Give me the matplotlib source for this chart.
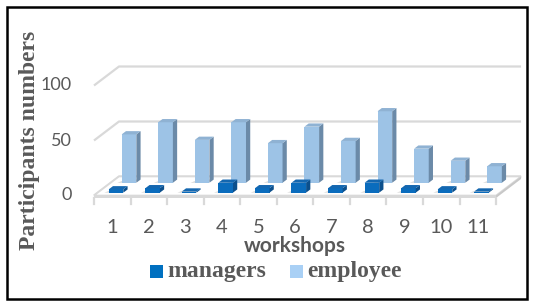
import matplotlib
matplotlib.use("Agg")
import matplotlib.pyplot as plt
from matplotlib.patches import Polygon, Rectangle
import numpy as np

# ---- data ----
workshops = ["1", "2", "3", "4", "5", "6", "7", "8", "9", "10", "11"]
managers = [3, 4, 1, 9, 4, 9, 4, 9, 4, 3, 1]
employee = [44, 55, 39, 55, 36, 51, 38, 65, 31, 20, 15]
y_ticks = [0, 50, 100]

# ---- layout (pixels) ----
W, H = 533, 305
X_LEFT = 94.0        # px of left floor edge (x = 0.5)
PX_CAT = 36.55       # px per category
Y0 = 195.5           # px (from top) of value 0 at front
PX_VAL = 1.1         # px per value unit
DXP, DYP = 25.0, 19.0  # oblique depth offset (px) for full depth

DX = DXP / PX_CAT
DY = DYP / PX_VAL

def vy(py):
    return (Y0 - py) / PX_VAL

def cx(px):
    return 0.5 + (px - X_LEFT) / PX_CAT

fig = plt.figure(figsize=(W / 100, H / 100), dpi=100)
ax = fig.add_axes([0, 0, 1, 1])
ax.set_xlim(cx(0), cx(W))
ax.set_ylim(vy(H), vy(0))
ax.axis("off")

n = len(workshops)
xs = np.arange(1, n + 1)
grid_c = "#d9d9d9"

# gridlines: side wall + back wall
for v in y_ticks:
    ax.plot([0.5, 0.5 + DX, n + 0.5 + DX], [v, v + DY, v + DY],
            color=grid_c, lw=1.6, solid_capstyle="butt", zorder=1)

# floor
slab = 2.5 / PX_VAL
floor_top = Polygon([(0.5, 0), (n + 0.5, 0), (n + 0.5 + DX, DY), (0.5 + DX, DY)],
                    closed=True, fc="#ffffff", ec=grid_c, lw=1.2, zorder=2)
ax.add_patch(floor_top)
ax.add_patch(Rectangle((0.5, -slab), n, slab, fc=grid_c, ec="none", zorder=2))
ax.add_patch(Polygon([(n + 0.5, -slab), (n + 0.5 + DX, DY - slab), (n + 0.5 + DX, DY), (n + 0.5, 0)],
                     closed=True, fc="#c8c8c8", ec="none", zorder=2))
# tick marks below floor
for k in range(n + 1):
    ax.plot([0.5 + k, 0.5 + k], [-slab, vy(203.5)], color=grid_c, lw=1.6, zorder=2)

def bar3d(c, h, d0, d1, w, front, side, top, z):
    xl = c - w / 2
    xr = c + w / 2
    # subtle shadow on floor
    sh = Polygon([(xl + d0 * DX - 0.12, d0 * DY), (xr + d0 * DX - 0.05, d0 * DY),
                  (xr + d1 * DX, d1 * DY), (xl + d1 * DX, d1 * DY)],
                 closed=True, fc="#bdbdbd", ec="none", alpha=0.6, zorder=z)
    ax.add_patch(sh)
    ax.bar(c + d0 * DX, h, width=w, bottom=d0 * DY, color=front, lw=0, zorder=z + 0.1)
    ax.add_patch(Polygon([(xr + d0 * DX, d0 * DY), (xr + d1 * DX, d1 * DY),
                          (xr + d1 * DX, d1 * DY + h), (xr + d0 * DX, d0 * DY + h)],
                         closed=True, fc=side, ec="none", zorder=z + 0.1))
    ax.add_patch(Polygon([(xl + d0 * DX, d0 * DY + h), (xr + d0 * DX, d0 * DY + h),
                          (xr + d1 * DX, d1 * DY + h), (xl + d1 * DX, d1 * DY + h)],
                         closed=True, fc=top, ec="none", zorder=z + 0.1))

W_BAR = 0.40
for i in range(n):
    bar3d(xs[i], employee[i], 0.67, 0.84, W_BAR, "#9dc3e6", "#6b8aa8", "#8fb2d3", 3 + i * 0.01)
for i in range(n):
    bar3d(xs[i], managers[i], 0.15, 0.32, W_BAR, "#0a6cbd", "#0b4f8c", "#1467b0", 4 + i * 0.01)

tick_c = "#595959"
# y tick labels
for v in y_ticks:
    ax.text(cx(72), v + 1.5 / PX_VAL * 0, str(v), ha="right", va="center",
            fontsize=13, color=tick_c, family="Lato", zorder=6)
# x tick labels
for i, lab in enumerate(workshops):
    ax.text(xs[i], vy(227.5), lab, ha="center", va="center",
            fontsize=14.5, color=tick_c, family="Lato", zorder=6)

# axis titles
fig.text(295 / W, 1 - 246 / H, "workshops", ha="center", va="center",
         fontsize=15, fontweight="bold", color=tick_c, family="Lato")
fig.text(30 / W, 1 - 140 / H, "Participants numbers", ha="center", va="center",
         rotation=90, fontsize=17, fontweight="bold", color=tick_c,
         family="Liberation Serif")

# legend
sq = 13
for (x0, col, lab) in [(150, "#0070c0", "managers"), (290, "#a9d0f5", "employee")]:
    fig.patches.append(Rectangle((x0 / W, 1 - 278 / H), sq / W, sq / H,
                                 transform=fig.transFigure, fc=col, ec="none"))
    fig.text((x0 + 17) / W, 1 - 271.5 / H, lab, ha="left", va="center",
             fontsize=17, fontweight="bold", color=tick_c, family="Liberation Serif")

# outer border
fig.patches.append(Rectangle((6.5 / W, 1 - 298.5 / H), 520.5 / W, 292 / H,
                             transform=fig.transFigure, fc="none", ec="black", lw=1.8))

fig.savefig("out.png", dpi=100)
